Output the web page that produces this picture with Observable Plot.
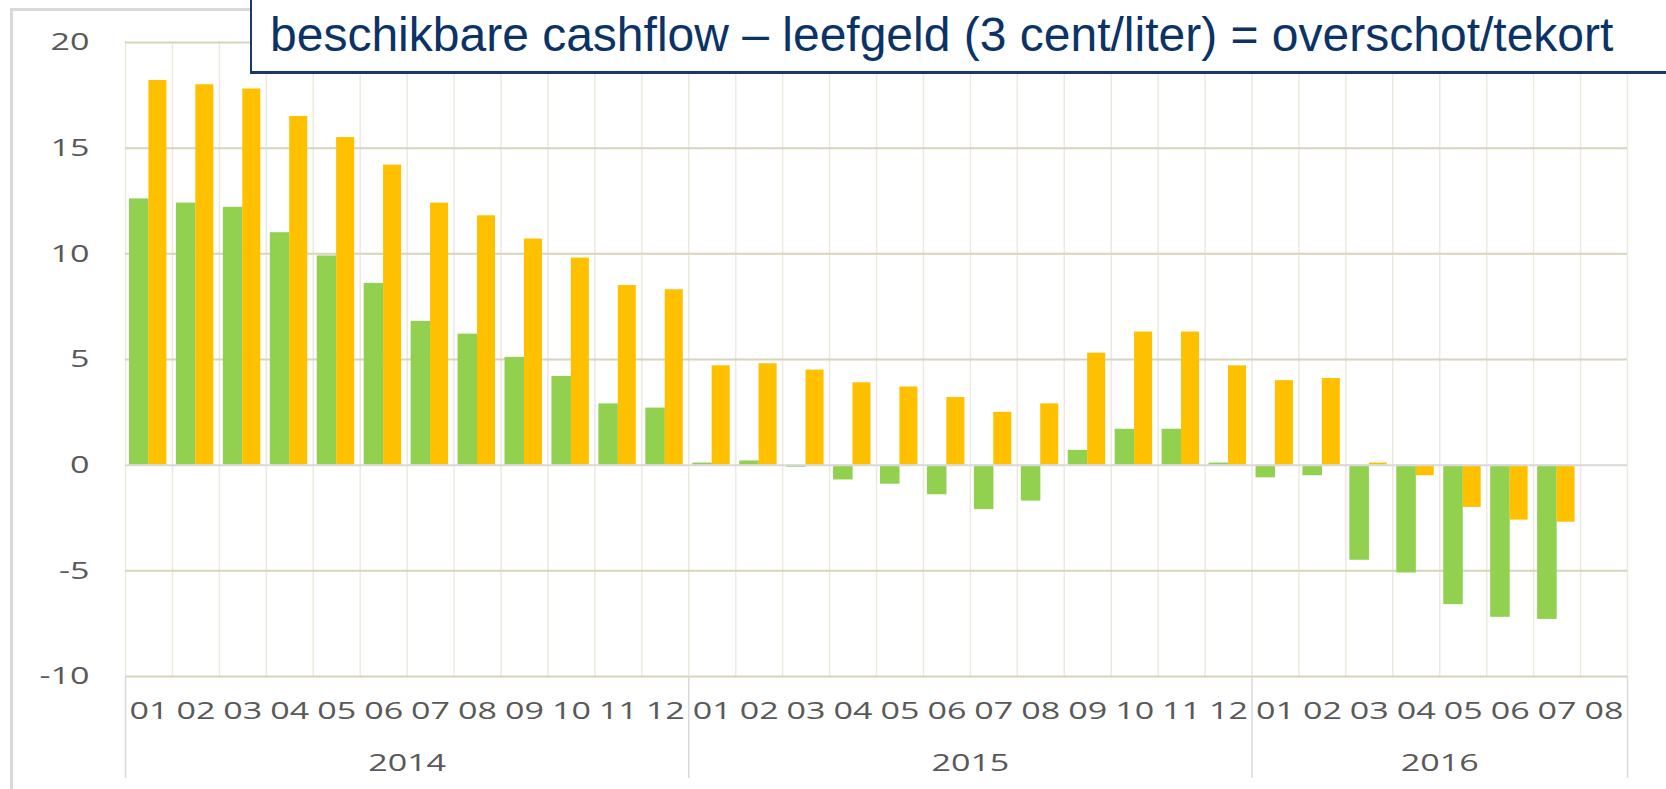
<!DOCTYPE html>
<html>
<head>
<meta charset="utf-8">
<script src="https://cdn.jsdelivr.net/npm/d3@7"></script>
<script src="https://cdn.jsdelivr.net/npm/@observablehq/plot@0.6"></script>
<style>
  html, body { margin: 0; padding: 0; background: #fff; }
  #wrap { position: relative; width: 1666px; height: 789px; overflow: hidden; }
  #frame { position: absolute; left: 10px; top: 8px; width: 2000px; height: 1000px;
           border-left: 3px solid #d9d9d9; border-top: 3px solid #d9d9d9; }
  #chart { position: absolute; left: 0; top: 0; }
  #title { position: absolute; left: 250px; top: -3px; width: 1500px; height: 66px;
           background: #fff; border: 2px solid #173a6b; border-bottom: 3px solid #173a6b;
           font-family: "Liberation Sans", Arial, sans-serif; font-size: 48px; color: #0b3366;
           line-height: 60px; padding-top: 6px; padding-left: 18px; box-sizing: content-box;
           white-space: nowrap; }
</style>
</head>
<body>
<div id="wrap">
  <div id="frame"></div>
  <div id="chart"></div>
  <div id="title">beschikbare cashflow – leefgeld (3 cent/liter) = overschot/tekort</div>
</div>
<script>
// Periods (year, month) in order
const years = ["2014", "2015", "2016"];
const periodYears = [
  "2014","2014","2014","2014","2014","2014","2014","2014","2014","2014","2014","2014",
  "2015","2015","2015","2015","2015","2015","2015","2015","2015","2015","2015","2015",
  "2016","2016","2016","2016","2016","2016","2016","2016"
];
const monthLabels = [
  "01","02","03","04","05","06","07","08","09","10","11","12",
  "01","02","03","04","05","06","07","08","09","10","11","12",
  "01","02","03","04","05","06","07","08"
];
// Series values (cent/liter)
const greenValues = [
  12.6, 12.4, 12.2, 11.0, 9.9, 8.6, 6.8, 6.2, 5.1, 4.2, 2.9, 2.7,
  0.1, 0.2, -0.1, -0.7, -0.9, -1.4, -2.1, -1.7, 0.7, 1.7, 1.7, 0.1,
  -0.6, -0.5, -4.5, -5.1, -6.6, -7.2, -7.3, null
];
const orangeValues = [
  18.2, 18.0, 17.8, 16.5, 15.5, 14.2, 12.4, 11.8, 10.7, 9.8, 8.5, 8.3,
  4.7, 4.8, 4.5, 3.9, 3.7, 3.2, 2.5, 2.9, 5.3, 6.3, 6.3, 4.7,
  4.0, 4.1, 0.1, -0.5, -2.0, -2.6, -2.7, null
];
const yTicks = [-10, -5, 0, 5, 10, 15, 20];

const idx = d3.range(monthLabels.length);
const greenData = idx.filter(i => greenValues[i] != null).map(i => ({i, v: greenValues[i]}));
const orangeData = idx.filter(i => orangeValues[i] != null).map(i => ({i, v: orangeValues[i]}));
const yMin = d3.min(yTicks), yMax = d3.max(yTicks);

// year groups: start index, end index, center
const yearGroups = years.map(y => {
  const is = idx.filter(i => periodYears[i] === y);
  return {year: y, start: d3.min(is), end: d3.max(is) + 1, center: (d3.min(is) + d3.max(is) + 1) / 2};
});
const boundaries = [...yearGroups.map(g => g.start), monthLabels.length];

const chart = Plot.plot({
  width: 1666,
  height: 789,
  marginTop: 42,
  marginBottom: 113,
  marginLeft: 125,
  marginRight: 39,
  style: {fontFamily: "'Open Sans', sans-serif", color: "#595959", background: "transparent"},
  x: {domain: [0, monthLabels.length], axis: null},
  y: {domain: [yMin, yMax], label: null},
  marks: [
    // vertical category gridlines
    Plot.ruleX(d3.range(monthLabels.length + 1), {x: d => d, y1: yMin, y2: yMax, stroke: "#ece9df", strokeWidth: 1.5}),
    // horizontal gridlines
    Plot.ruleY(yTicks.filter(t => t !== 0), {y: d => d, stroke: "#d8d3bc", strokeWidth: 2}),
    // value axis
    Plot.axisY({ticks: yTicks, tickSize: 0, tickPadding: 36, fontSize: 24, fill: "#595959", tickFormat: d => String(d), label: null}),
    // bars
    Plot.rectY(greenData, {x1: d => d.i, x2: d => d.i + 1, y1: 0, y2: d => d.v, fill: "#92d050", insetLeft: 4, insetRight: 23.4}),
    Plot.rectY(orangeData, {x1: d => d.i, x2: d => d.i + 1, y1: 0, y2: d => d.v, fill: "#ffc000", insetLeft: 23.4, insetRight: 5.5}),
    // zero line
    Plot.ruleY([0], {stroke: "#d9d9d9", strokeWidth: 2}),
    // category axis: month labels
    Plot.text(idx, {x: i => i + 0.5, y: yMin, text: i => monthLabels[i], dy: 35, fontSize: 24, fill: "#595959"}),
    // year separators below the plot
    Plot.ruleX(boundaries, {x: d => d, y1: yMin, y2: yMin, insetBottom: -102, stroke: "#d9d9d9", strokeWidth: 1.5}),
    // year labels
    Plot.text(yearGroups, {x: d => d.center, y: yMin, text: d => d.year, dy: 87, fontSize: 24, fill: "#595959"})
  ]
});

document.getElementById("chart").appendChild(chart);

// horizontally stretch axis texts as in the reference
d3.select(chart).selectAll("text").each(function() {
  const w = this.getComputedTextLength();
  if (w > 0) {
    this.setAttribute("textLength", w * 1.42);
    this.setAttribute("lengthAdjust", "spacingAndGlyphs");
  }
});
</script>
</body>
</html>
